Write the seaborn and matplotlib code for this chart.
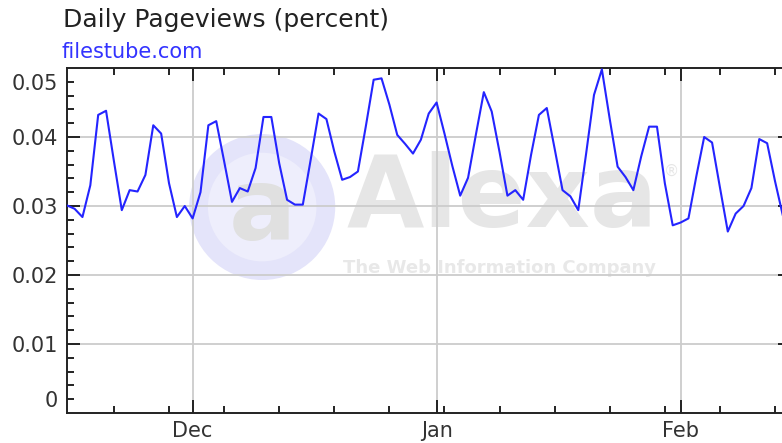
import matplotlib
matplotlib.use("Agg")
import matplotlib.pyplot as plt
import matplotlib.dates as mdates
from matplotlib.ticker import FixedLocator, FuncFormatter, NullFormatter
from matplotlib.patches import Ellipse
import numpy as np
import pandas as pd
import seaborn as sns

# ---------------- data ----------------
title = "Daily Pageviews (percent)"
site = "filestube.com"
start_date = "2010-11-15"
end_date = "2011-02-15"

pageviews = [
    # Nov 15 - Nov 30
    0.0301, 0.0296, 0.0284, 0.0330, 0.0432, 0.0438, 0.0365, 0.0294,
    0.0323, 0.0321, 0.0345, 0.0417, 0.0405, 0.0333, 0.0284, 0.0300,
    # Dec 1 - Dec 31
    0.0282, 0.0320, 0.0417, 0.0423, 0.0365, 0.0306, 0.0326, 0.0321,
    0.0355, 0.0429, 0.0429, 0.0362, 0.0309, 0.0302, 0.0302, 0.0367,
    0.0434, 0.0426, 0.0379, 0.0338, 0.0342, 0.0350, 0.0415, 0.0483,
    0.0485, 0.0447, 0.0403, 0.0390, 0.0376, 0.0396, 0.0434,
    # Jan 1 - Jan 31
    0.0450, 0.0405, 0.0358, 0.0315, 0.0341, 0.0404, 0.0465, 0.0437,
    0.0378, 0.0315, 0.0323, 0.0309, 0.0374, 0.0432, 0.0442, 0.0383,
    0.0323, 0.0314, 0.0294, 0.0376, 0.0461, 0.0498, 0.0426, 0.0357,
    0.0342, 0.0323, 0.0372, 0.0415, 0.0415, 0.0333, 0.0272,
    # Feb 1 - Feb 14
    0.0276, 0.0282, 0.0343, 0.0400, 0.0392, 0.0327, 0.0263, 0.0289,
    0.0300, 0.0326, 0.0397, 0.0391, 0.0336, 0.0286,
]
dates = pd.date_range(start_date, periods=len(pageviews), freq="D")
df = pd.DataFrame({"date": dates, "pageviews": pageviews})

y_major = [0.01, 0.02, 0.03, 0.04]
y_end_labels = {0.002: "0", 0.048: "0.05"}

# ---------------- style ----------------
sns.set_style("white")
plt.rcParams["font.family"] = ["DejaVu Sans"]

fig = plt.figure(figsize=(7.82, 4.43), dpi=100)
ax = fig.add_axes([0.0853, 0.0677, 0.9259, 0.7788])

dark = "#222222"
line_blue = "#2424ff"

sns.lineplot(data=df, x="date", y="pageviews", ax=ax, color=line_blue,
             linewidth=1.5, zorder=3)

ax.set_xlim(pd.Timestamp(start_date), pd.Timestamp(end_date))
ax.set_ylim(0, 0.05)
ax.set_xlabel("")
ax.set_ylabel("")

# y ticks
ax.yaxis.set_major_locator(FixedLocator(y_major))
ax.yaxis.set_major_formatter(FuncFormatter(lambda v, p: f"{v:g}"))
minor_pos = [round(v, 3) for v in np.arange(0.002, 0.0481, 0.002)]
ax.yaxis.set_minor_locator(FixedLocator(minor_pos))


def minor_fmt(v, p):
    for k, s in y_end_labels.items():
        if abs(v - k) < 1e-6:
            return s
    return ""


ax.yaxis.set_minor_formatter(FuncFormatter(minor_fmt))

# x ticks
ax.xaxis.set_major_locator(mdates.MonthLocator())
ax.xaxis.set_major_formatter(mdates.DateFormatter("%b"))
ax.xaxis.set_minor_locator(mdates.WeekdayLocator(byweekday=mdates.SU))
ax.xaxis.set_minor_formatter(NullFormatter())

for which, ln in (("major", 9.4), ("minor", 5)):
    ax.tick_params(axis="both", which=which, direction="in", length=ln,
                   width=1.4, color=dark, top=True, right=True, left=True,
                   bottom=True, labelsize=15, labelcolor="#333333", pad=6)

for sp in ax.spines.values():
    sp.set_visible(True)
    sp.set_color(dark)
    sp.set_linewidth(1.4)

ax.grid(True, which="major", color="#cccccc", linewidth=1.3)
ax.set_axisbelow("line")

# watermark
circ = Ellipse((0.27, 0.597), 0.2017, 0.423, transform=ax.transAxes,
               facecolor="#e4e4fa", edgecolor="none", zorder=0.2)
ax.add_patch(circ)
circ2 = Ellipse((0.27, 0.597), 0.15, 0.315, transform=ax.transAxes,
                facecolor="#eeeefc", edgecolor="none", zorder=0.25)
ax.add_patch(circ2)
ax.text(0.27, 0.58, "a", transform=ax.transAxes, fontsize=72,
        fontweight="bold", color="#e0e0e0", ha="center", va="center",
        zorder=0.3)
ax.text(0.602, 0.62, "Alexa", transform=ax.transAxes, fontsize=72,
        fontweight="bold", color="#e6e6e6", ha="center", va="center",
        zorder=0.3)
ax.text(0.835, 0.70, "®", transform=ax.transAxes, fontsize=11,
        color="#e6e6e6", ha="center", va="center", zorder=0.3)
ax.text(0.598, 0.42, "The Web Information Company", transform=ax.transAxes,
        fontsize=13, fontweight="bold", color="#e8e8e8", ha="center",
        va="center", zorder=0.3)

# titles
fig.text(0.081, 0.939, title, fontsize=18, color=dark, ha="left",
         va="baseline")
fig.text(0.079, 0.868, site, fontsize=15, color="#3333ff", ha="left",
         va="baseline")

fig.savefig("out.png", dpi=100)
